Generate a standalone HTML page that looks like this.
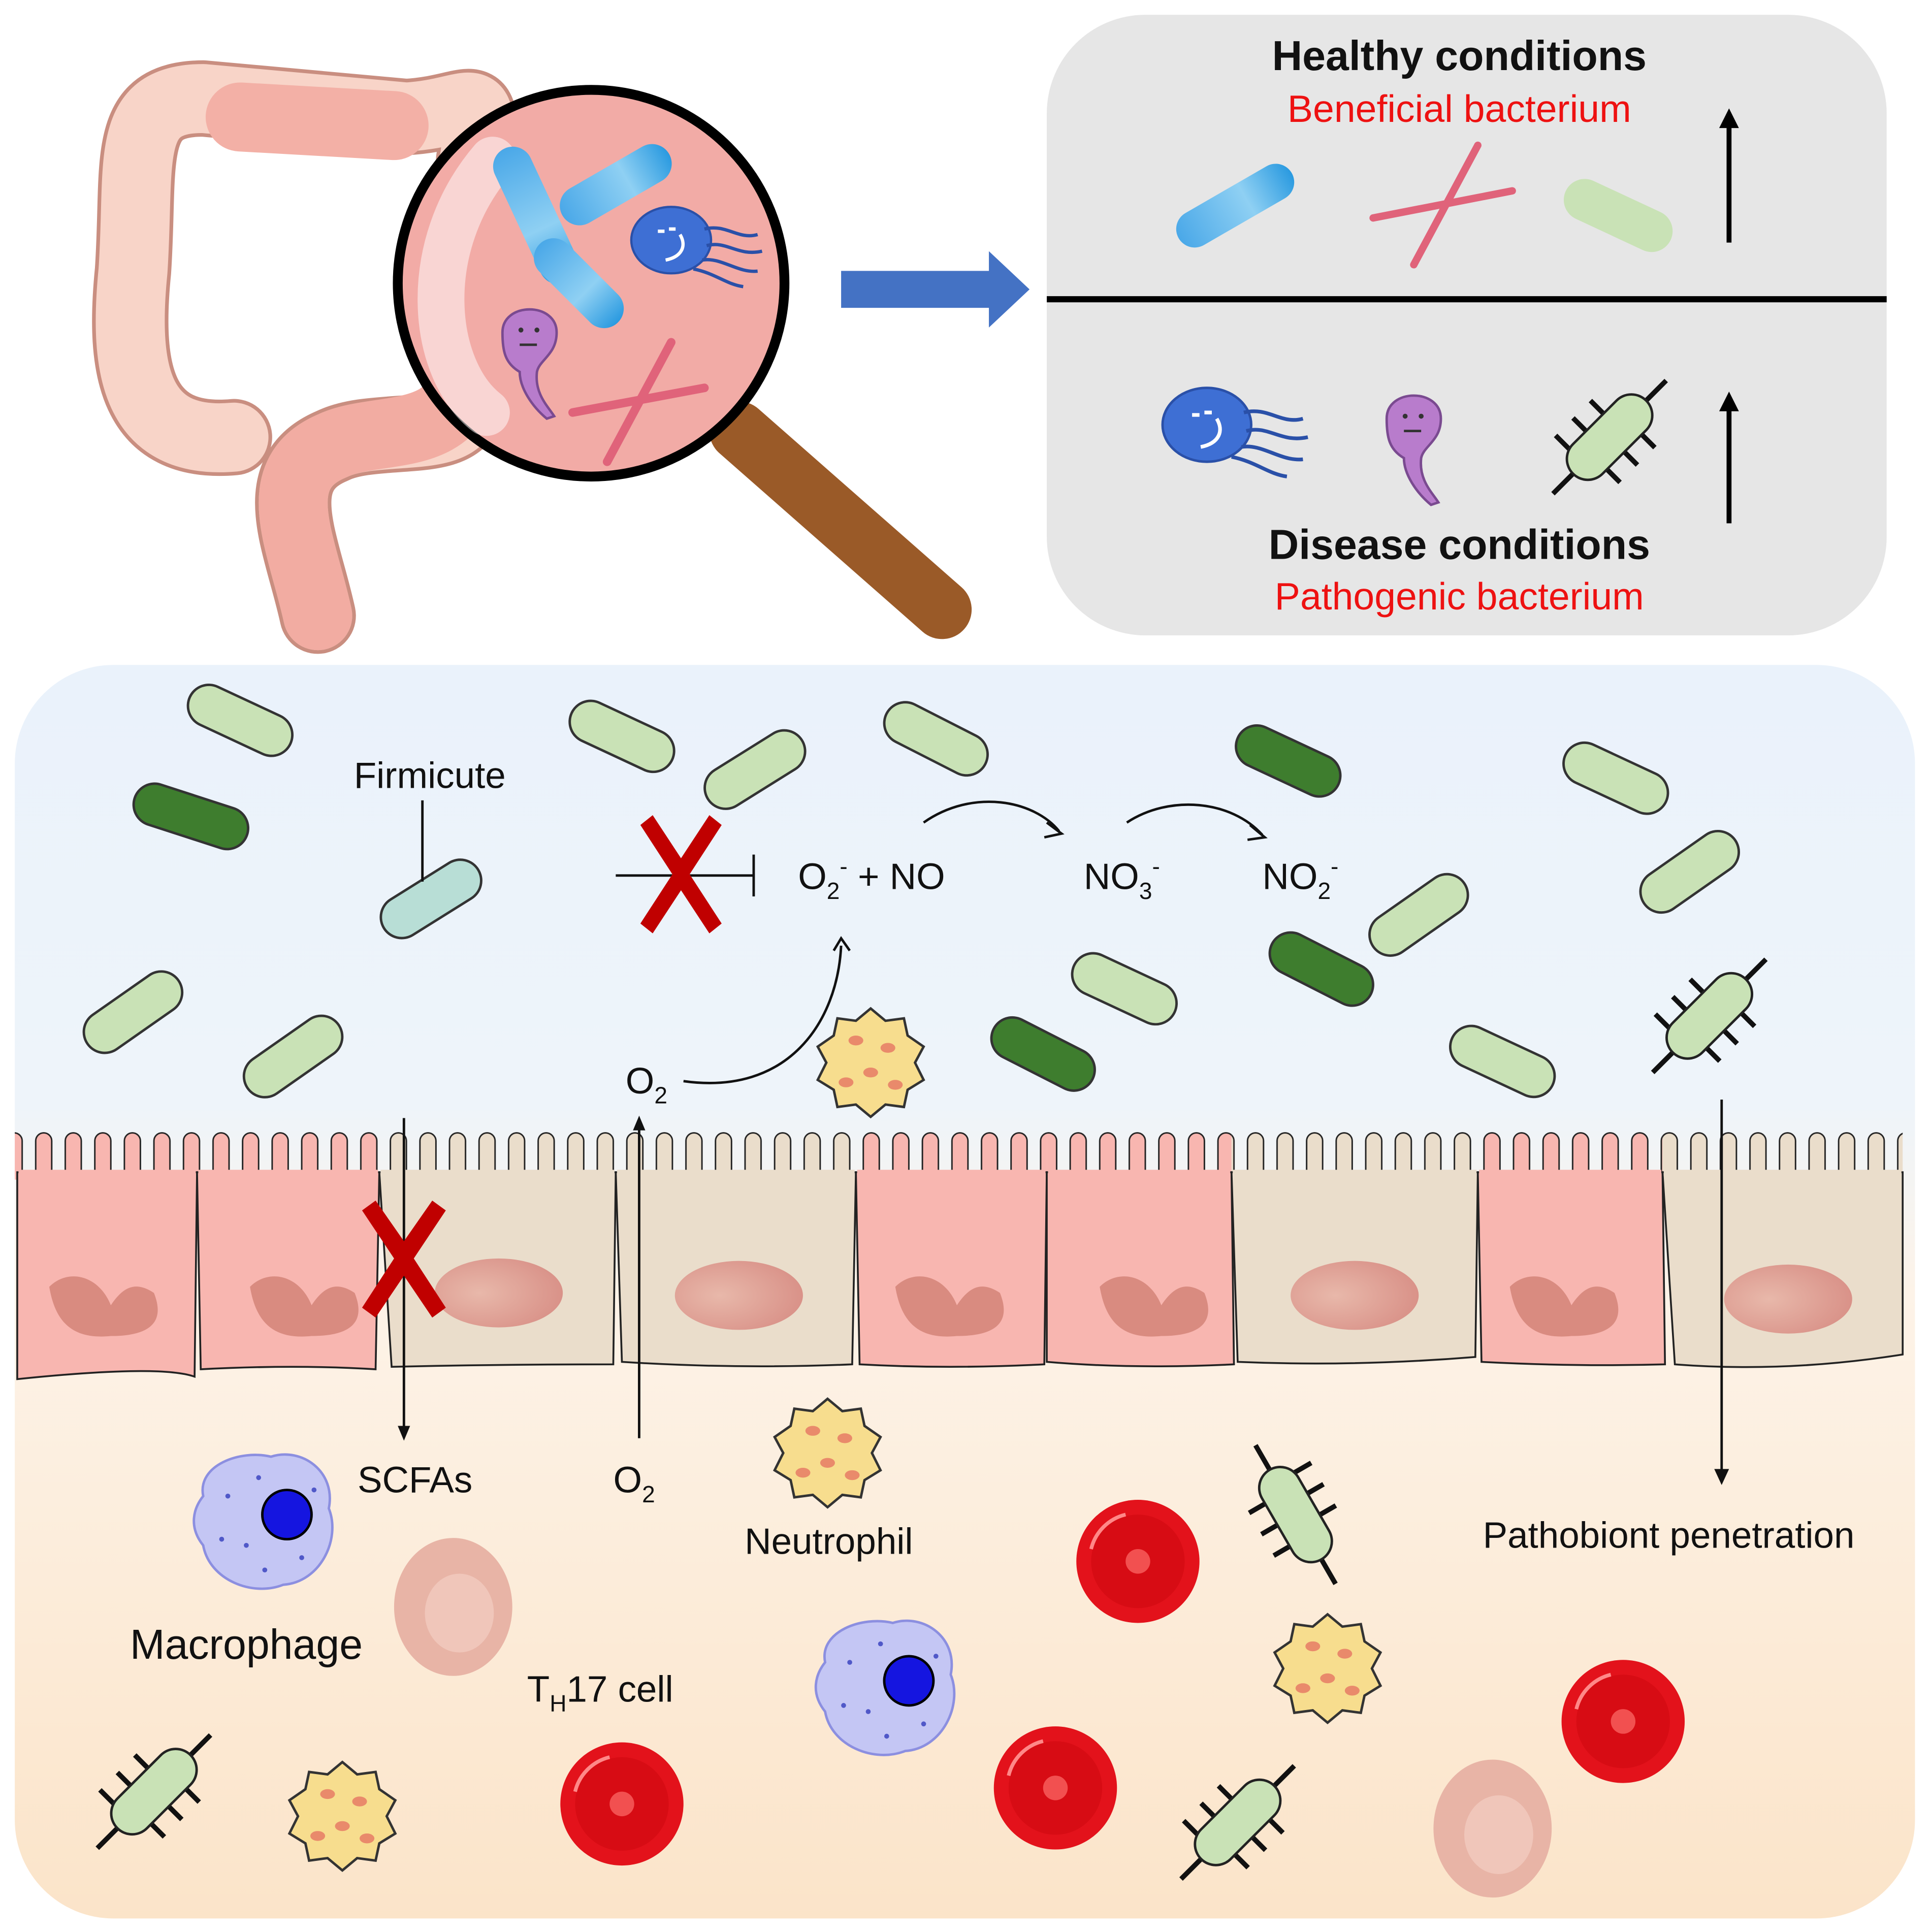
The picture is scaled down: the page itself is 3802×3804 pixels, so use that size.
<!DOCTYPE html>
<html><head><meta charset="utf-8"><style>
html,body{margin:0;padding:0;background:#fff;width:3802px;height:3804px;overflow:hidden}
svg{display:block}
text{font-family:"Liberation Sans",Arial,sans-serif;fill:#111}
.lg{fill:#c9e2b6;stroke:#333;stroke-width:2}
.dg{fill:#3e7d2e;stroke:#333;stroke-width:2}
</style></head><body>
<svg width="3802" height="3804" viewBox="0 0 1568 1569" preserveAspectRatio="none" xmlns="http://www.w3.org/2000/svg">
<defs>
<linearGradient id="bg" x1="0" y1="0" x2="0" y2="1">
<stop offset="0" stop-color="#eaf2fb"/><stop offset="0.35" stop-color="#eef4fa"/><stop offset="0.5" stop-color="#fdf3e8"/><stop offset="1" stop-color="#fbe4c9"/></linearGradient>
<linearGradient id="blu" x1="0" y1="0" x2="1" y2="0"><stop offset="0" stop-color="#4aa8e8"/><stop offset="0.6" stop-color="#8fd0f3"/><stop offset="1" stop-color="#2a9ae0"/></linearGradient>
<radialGradient id="nuc" cx="0.35" cy="0.5" r="0.7"><stop offset="0" stop-color="#e8b8aa"/><stop offset="1" stop-color="#d88f86"/></radialGradient>
<pattern id="vp" x="0" y="912" width="24" height="80" patternUnits="userSpaceOnUse"><rect x="5" y="8" width="13" height="90" rx="6.5" fill="#f8b6b0" stroke="#222" stroke-width="1.2"/></pattern>
<pattern id="vb" x="0" y="912" width="24" height="80" patternUnits="userSpaceOnUse"><rect x="5" y="8" width="13" height="90" rx="6.5" fill="#eaddcb" stroke="#222" stroke-width="1.2"/></pattern>
<g id="spk">
<line x1="-65" y1="0" x2="65" y2="0" stroke="#111" stroke-width="4"/>
<g stroke="#111" stroke-width="4">
<line x1="-30" y1="-14" x2="-30" y2="-32"/><line x1="-10" y1="-14" x2="-10" y2="-32"/><line x1="10" y1="-14" x2="10" y2="-32"/>
<line x1="-20" y1="14" x2="-20" y2="32"/><line x1="0" y1="14" x2="0" y2="32"/><line x1="20" y1="14" x2="20" y2="32"/></g>
<rect x="-42" y="-17" width="84" height="34" rx="17" fill="#c9e2b6" stroke="#222" stroke-width="2"/>
</g>
<g id="neu">
<polygon points="0,-44 12,-34 27,-36 30,-22 43,-13 36,0 43,14 30,22 27,36 12,34 0,44 -12,34 -27,36 -30,22 -43,14 -36,0 -43,-13 -30,-22 -27,-36 -12,-34" fill="#f7dd8e" stroke="#333" stroke-width="2"/>
<ellipse cx="-12" cy="-18" rx="6" ry="4" fill="#e98a6b"/><ellipse cx="14" cy="-12" rx="6" ry="4" fill="#e98a6b"/><ellipse cx="0" cy="8" rx="6" ry="4" fill="#e98a6b"/><ellipse cx="-20" cy="16" rx="6" ry="4" fill="#e98a6b"/><ellipse cx="20" cy="18" rx="6" ry="4" fill="#e98a6b"/>
</g>
<g id="rbc"><circle r="50" fill="#e3121b"/><circle r="38" fill="#d70c14"/><circle r="10" fill="#f25050"/><path d="M-38,-10 A38,38 0 0 1 -10,-38" stroke="#f88" stroke-width="3" fill="none"/></g>
<g id="mac"><path d="M-50,-20 C-55,-45 -20,-58 5,-52 C30,-60 58,-40 52,-10 C62,15 45,50 15,52 C-10,62 -45,48 -50,20 C-62,5 -58,-10 -50,-20Z" fill="#c4c6f4" stroke="#8c8fe0" stroke-width="2"/>
<circle cx="18" cy="-5" r="20" fill="#1515e0" stroke="#000" stroke-width="2"/>
<g fill="#5058c8"><circle cx="-30" cy="-20" r="2"/><circle cx="-15" cy="20" r="2"/><circle cx="-35" cy="15" r="2"/><circle cx="30" cy="30" r="2"/><circle cx="-5" cy="-35" r="2"/><circle cx="40" cy="-25" r="2"/><circle cx="0" cy="40" r="2"/></g></g>
<g id="th"><ellipse rx="48" ry="56" fill="#e8b4a6"/><ellipse cx="5" cy="5" rx="28" ry="32" fill="#f0c6ba"/></g>
<g id="jel"><ellipse cx="0" cy="0" rx="36" ry="30" fill="#3e6fd4" stroke="#2a50a8" stroke-width="2"/>
<g stroke="#2a50a8" stroke-width="3" fill="none"><path d="M30,-10 C50,-15 60,0 78,-5"/><path d="M32,5 C50,0 60,15 82,10"/><path d="M28,18 C45,15 60,30 78,28"/><path d="M20,26 C40,30 50,40 65,42"/></g>
<path d="M-12,-8 l6,0 M-2,-10 l6,0 M8,-5 C14,5 10,15 -5,18" stroke="#fff" stroke-width="3" fill="none"/></g>
<g id="pur"><path d="M-22,-10 C-22,-35 22,-35 22,-10 C22,8 8,12 6,22 C4,40 15,50 20,58 L14,60 C2,50 -8,35 -8,22 C-20,15 -22,5 -22,-10Z" fill="#b87ccc" stroke="#7a4a90" stroke-width="2"/><circle cx="-7" cy="-12" r="2" fill="#333"/><circle cx="6" cy="-12" r="2" fill="#333"/><line x1="-8" y1="0" x2="6" y2="0" stroke="#333" stroke-width="2"/></g>
</defs>

<!-- colon -->
<g fill="none" stroke-linecap="round" stroke-linejoin="round">
<path d="M190,355 C110,362 100,300 108,220 C114,130 100,80 165,80 L330,95 C385,92 395,65 385,130 L378,330 C372,362 305,345 270,362 C215,385 245,440 258,500" stroke="#c98e80" stroke-width="62"/>
<path d="M190,355 C110,362 100,300 108,220 C114,130 100,80 165,80 L330,95 C385,92 395,65 385,130 L378,330 C372,362 305,345 270,362 C215,385 245,440 258,500" stroke="#f8d4c8" stroke-width="56"/>
<path d="M195,95 L320,102" stroke="#f3b0a6" stroke-width="56"/>
<path d="M378,300 C372,362 305,345 270,362 C215,385 245,440 258,500" stroke="#f2aca2" stroke-width="56"/>
</g>

<!-- magnifier -->
<line x1="600" y1="350" x2="765" y2="495" stroke="#9a5a28" stroke-width="48" stroke-linecap="round"/>
<circle cx="480" cy="230" r="157" fill="#f2aba6" stroke="#000" stroke-width="8"/>
<path d="M400,130 C340,200 350,300 395,335" stroke="#fff" stroke-opacity="0.5" stroke-width="38" fill="none" stroke-linecap="round"/>
<g transform="translate(435,175) rotate(65)"><rect x="-60" y="-16" width="120" height="32" rx="16" fill="url(#blu)"/></g>
<g transform="translate(470,230) rotate(45)"><rect x="-45" y="-16" width="90" height="32" rx="16" fill="url(#blu)"/></g>
<g transform="translate(500,150) rotate(-30)"><rect x="-50" y="-16" width="100" height="32" rx="16" fill="url(#blu)"/></g>
<use href="#jel" transform="translate(545,195) scale(0.9)"/>
<use href="#pur" transform="translate(430,280)"/>
<g stroke="#e0637a" stroke-width="7" stroke-linecap="round"><line x1="465" y1="335" x2="572" y2="315"/><line x1="493" y1="375" x2="545" y2="278"/></g>

<!-- arrow -->
<polygon points="683,220 803,220 803,204 836,235 803,266 803,250 683,250" fill="#4472c4"/>

<!-- top right panel -->
<rect x="850" y="12" width="682" height="504" rx="80" fill="#e6e6e6"/>
<line x1="850" y1="243" x2="1532" y2="243" stroke="#000" stroke-width="5"/>
<text x="1185" y="57" font-size="34" font-weight="bold" text-anchor="middle">Healthy conditions</text>
<text x="1185" y="99" font-size="31" text-anchor="middle" style="fill:#ee1111">Beneficial bacterium</text>
<text x="1185" y="454" font-size="34" font-weight="bold" text-anchor="middle">Disease conditions</text>
<text x="1185" y="495" font-size="31" text-anchor="middle" style="fill:#ee1111">Pathogenic bacterium</text>
<g stroke="#000" stroke-width="4"><line x1="1404" y1="197" x2="1404" y2="100"/><line x1="1404" y1="425" x2="1404" y2="330"/></g>
<polygon points="1404,88 1396,104 1412,104"/><polygon points="1404,318 1396,334 1412,334"/>
<g transform="translate(1003,167) rotate(-30)"><rect x="-53" y="-15" width="106" height="30" rx="15" fill="url(#blu)"/></g>
<g stroke="#e0637a" stroke-width="6" stroke-linecap="round"><line x1="1115" y1="177" x2="1228" y2="155"/><line x1="1148" y1="215" x2="1200" y2="118"/></g>
<g transform="translate(1314,175) rotate(25)"><rect x="-47" y="-17" width="94" height="34" rx="17" fill="#c9e2b6"/></g>
<use href="#jel" transform="translate(980,345)"/>
<use href="#pur" transform="translate(1148,350)"/>
<use href="#spk" transform="translate(1307,355) rotate(-45)"/>

<!-- bottom panel -->
<rect x="12" y="540" width="1543" height="1018" rx="80" fill="url(#bg)"/>

<!-- epithelium -->
<g stroke="#222" stroke-width="1.5">
<rect x="12" y="918" width="148" height="40" fill="url(#vp)" stroke="none"/>
<rect x="160" y="918" width="148" height="40" fill="url(#vp)" stroke="none"/>
<rect x="308" y="918" width="192" height="40" fill="url(#vb)" stroke="none"/>
<rect x="500" y="918" width="195" height="40" fill="url(#vb)" stroke="none"/>
<rect x="695" y="918" width="155" height="40" fill="url(#vp)" stroke="none"/>
<rect x="850" y="918" width="150" height="40" fill="url(#vp)" stroke="none"/>
<rect x="1000" y="918" width="200" height="40" fill="url(#vb)" stroke="none"/>
<rect x="1200" y="918" width="150" height="40" fill="url(#vp)" stroke="none"/>
<rect x="1350" y="918" width="195" height="40" fill="url(#vb)" stroke="none"/>
<path d="M14,952 L160,952 L158,1118 Q130,1108 14,1120Z" fill="#f8b6b0"/>
<path d="M160,952 L308,952 L305,1112 Q240,1108 163,1112Z" fill="#f8b6b0"/>
<path d="M308,952 L500,952 L498,1108 Q400,1108 318,1110Z" fill="#eaddcb"/>
<path d="M500,952 L695,952 L692,1108 Q600,1112 505,1106Z" fill="#eaddcb"/>
<path d="M695,952 L850,952 L848,1108 Q770,1112 698,1108Z" fill="#f8b6b0"/>
<path d="M850,952 L1000,952 L1002,1108 Q920,1112 850,1106Z" fill="#f8b6b0"/>
<path d="M1000,952 L1200,952 L1198,1102 Q1100,1110 1005,1106Z" fill="#eaddcb"/>
<path d="M1200,952 L1350,952 L1352,1108 Q1280,1110 1203,1106Z" fill="#f8b6b0"/>
<path d="M1350,952 L1545,952 L1545,1100 Q1450,1115 1360,1108Z" fill="#eaddcb"/>
</g>
<g fill="#f8b6b0"><rect x="15" y="950" width="144" height="5"/><rect x="161" y="950" width="146" height="5"/><rect x="696" y="950" width="153" height="5"/><rect x="851" y="950" width="148" height="5"/><rect x="1201" y="950" width="148" height="5"/></g>
<g fill="#eaddcb"><rect x="309" y="950" width="190" height="5"/><rect x="501" y="950" width="193" height="5"/><rect x="1001" y="950" width="198" height="5"/><rect x="1351" y="950" width="193" height="5"/></g>
<g fill="#d98b80">
<path d="M40,1045 C55,1030 80,1035 90,1060 C100,1045 110,1040 125,1050 C135,1075 120,1085 90,1085 C60,1088 45,1075 40,1045Z"/>
<path d="M203,1045 C218,1030 243,1035 253,1060 C263,1045 273,1040 288,1050 C298,1075 283,1085 253,1085 C223,1088 208,1075 203,1045Z"/>
<path d="M727,1045 C742,1030 767,1035 777,1060 C787,1045 797,1040 812,1050 C822,1075 807,1085 777,1085 C747,1088 732,1075 727,1045Z"/>
<path d="M893,1045 C908,1030 933,1035 943,1060 C953,1045 963,1040 978,1050 C988,1075 973,1085 943,1085 C913,1088 898,1075 893,1045Z"/>
<path d="M1226,1045 C1241,1030 1266,1035 1276,1060 C1286,1045 1296,1040 1311,1050 C1321,1075 1306,1085 1276,1085 C1246,1088 1231,1075 1226,1045Z"/>
</g>
<g fill="url(#nuc)">
<ellipse cx="405" cy="1050" rx="52" ry="28"/><ellipse cx="600" cy="1052" rx="52" ry="28"/><ellipse cx="1100" cy="1052" rx="52" ry="28"/><ellipse cx="1452" cy="1055" rx="52" ry="28"/>
</g>

<!-- rods -->
<g>
<rect class="lg" x="-45" y="-17" width="90" height="34" rx="17" transform="translate(195,585) rotate(25)"/>
<rect class="dg" x="-48" y="-17" width="96" height="34" rx="17" transform="translate(155,663) rotate(18)"/>
<rect class="lg" x="-45" y="-17" width="90" height="34" rx="17" transform="translate(505,598) rotate(25)"/>
<rect class="lg" x="-45" y="-17" width="90" height="34" rx="17" transform="translate(613,625) rotate(-32)"/>
<rect class="lg" x="-45" y="-17" width="90" height="34" rx="17" transform="translate(760,600) rotate(27)"/>
<rect class="dg" x="-45" y="-17" width="90" height="34" rx="17" transform="translate(1046,618) rotate(25)"/>
<rect class="lg" x="-45" y="-17" width="90" height="34" rx="17" transform="translate(1312,632) rotate(25)"/>
<rect class="lg" x="-45" y="-17" width="90" height="34" rx="17" transform="translate(1372,708) rotate(-35)"/>
<rect class="lg" x="-45" y="-17" width="90" height="34" rx="17" transform="translate(1152,743) rotate(-35)"/>
<rect class="dg" x="-45" y="-17" width="90" height="34" rx="17" transform="translate(1073,787) rotate(27)"/>
<rect class="lg" x="-45" y="-17" width="90" height="34" rx="17" transform="translate(913,803) rotate(25)"/>
<rect class="dg" x="-45" y="-17" width="90" height="34" rx="17" transform="translate(847,856) rotate(27)"/>
<rect class="lg" x="-45" y="-17" width="90" height="34" rx="17" transform="translate(1220,862) rotate(25)"/>
<rect class="lg" x="-45" y="-17" width="90" height="34" rx="17" transform="translate(108,822) rotate(-35)"/>
<rect class="lg" x="-45" y="-17" width="90" height="34" rx="17" transform="translate(238,858) rotate(-35)"/>
<rect x="-45" y="-17" width="90" height="34" rx="17" fill="#b8ded6" stroke="#333" stroke-width="2" transform="translate(350,730) rotate(-32)"/>
</g>
<use href="#spk" transform="translate(1388,825) rotate(-45)"/>
<use href="#spk" transform="translate(1052,1230) rotate(60)"/>
<use href="#spk" transform="translate(125,1455) rotate(-45)"/>
<use href="#spk" transform="translate(1005,1480) rotate(-45)"/>
<use href="#neu" transform="translate(707,863)"/>
<use href="#neu" transform="translate(672,1180)"/>
<use href="#neu" transform="translate(1078,1355)"/>
<use href="#neu" transform="translate(278,1475)"/>
<use href="#rbc" transform="translate(924,1268)"/>
<use href="#rbc" transform="translate(857,1452)"/>
<use href="#rbc" transform="translate(505,1465)"/>
<use href="#rbc" transform="translate(1318,1398)"/>
<use href="#mac" transform="translate(215,1235)"/>
<use href="#mac" transform="translate(720,1370)"/>
<use href="#th" transform="translate(368,1305)"/>
<use href="#th" transform="translate(1212,1485)"/>

<!-- lines and arrows -->
<g stroke="#111" stroke-width="2" fill="none">
<line x1="343" y1="650" x2="343" y2="716"/>
<line x1="500" y1="711" x2="612" y2="711"/><line x1="612" y1="694" x2="612" y2="728"/>
<line x1="328" y1="908" x2="328" y2="1162"/>
<line x1="519" y1="1168" x2="519" y2="914"/>
<line x1="1398" y1="893" x2="1398" y2="1198"/>
<path d="M555,878 C640,890 680,830 683,768"/>
<path d="M750,668 C790,640 840,650 860,675"/>
<path d="M915,668 C950,645 1000,650 1025,678"/>
</g>
<polygon points="328,1170 323,1158 333,1158" fill="#111"/>
<polygon points="519,906 514,918 524,918" fill="#111"/>
<polygon points="1398,1206 1392,1193 1404,1193" fill="#111"/>
<path d="M677,772 L683,762 L690,772" stroke="#111" stroke-width="2" fill="none"/>
<path d="M850,668 L862,677 L848,680" stroke="#111" stroke-width="2" fill="none"/>
<path d="M1015,670 L1027,680 L1013,682" stroke="#111" stroke-width="2" fill="none"/>
<g fill="#c00000">
<polygon points="530,662 553,697 576,662 586,670 560,710 586,750 576,758 553,723 530,758 520,750 546,710 520,670"/>
<polygon points="305,975 328,1008 351,975 362,983 336,1022 362,1062 351,1070 328,1036 305,1070 294,1062 320,1022 294,983"/>
</g>

<!-- labels -->
<text x="349" y="640" font-size="30" text-anchor="middle">Firmicute</text>
<text x="648" y="722" font-size="30">O<tspan font-size="19" dy="8">2</tspan><tspan font-size="19" dy="-20">-</tspan><tspan dy="12"> + NO</tspan></text>
<text x="880" y="722" font-size="30">NO<tspan font-size="19" dy="8">3</tspan><tspan font-size="19" dy="-20">-</tspan></text>
<text x="1025" y="722" font-size="30">NO<tspan font-size="19" dy="8">2</tspan><tspan font-size="19" dy="-20">-</tspan></text>
<text x="508" y="888" font-size="30">O<tspan font-size="19" dy="8">2</tspan></text>
<text x="337" y="1212" font-size="30" text-anchor="middle">SCFAs</text>
<text x="498" y="1212" font-size="30">O<tspan font-size="19" dy="8">2</tspan></text>
<text x="673" y="1262" font-size="30" text-anchor="middle">Neutrophil</text>
<text x="200" y="1347" font-size="34" text-anchor="middle">Macrophage</text>
<text x="428" y="1382" font-size="30">T<tspan font-size="19" dy="8">H</tspan><tspan dy="-8">17 cell</tspan></text>
<text x="1355" y="1257" font-size="30" text-anchor="middle">Pathobiont penetration</text>
</svg>
</body></html>
